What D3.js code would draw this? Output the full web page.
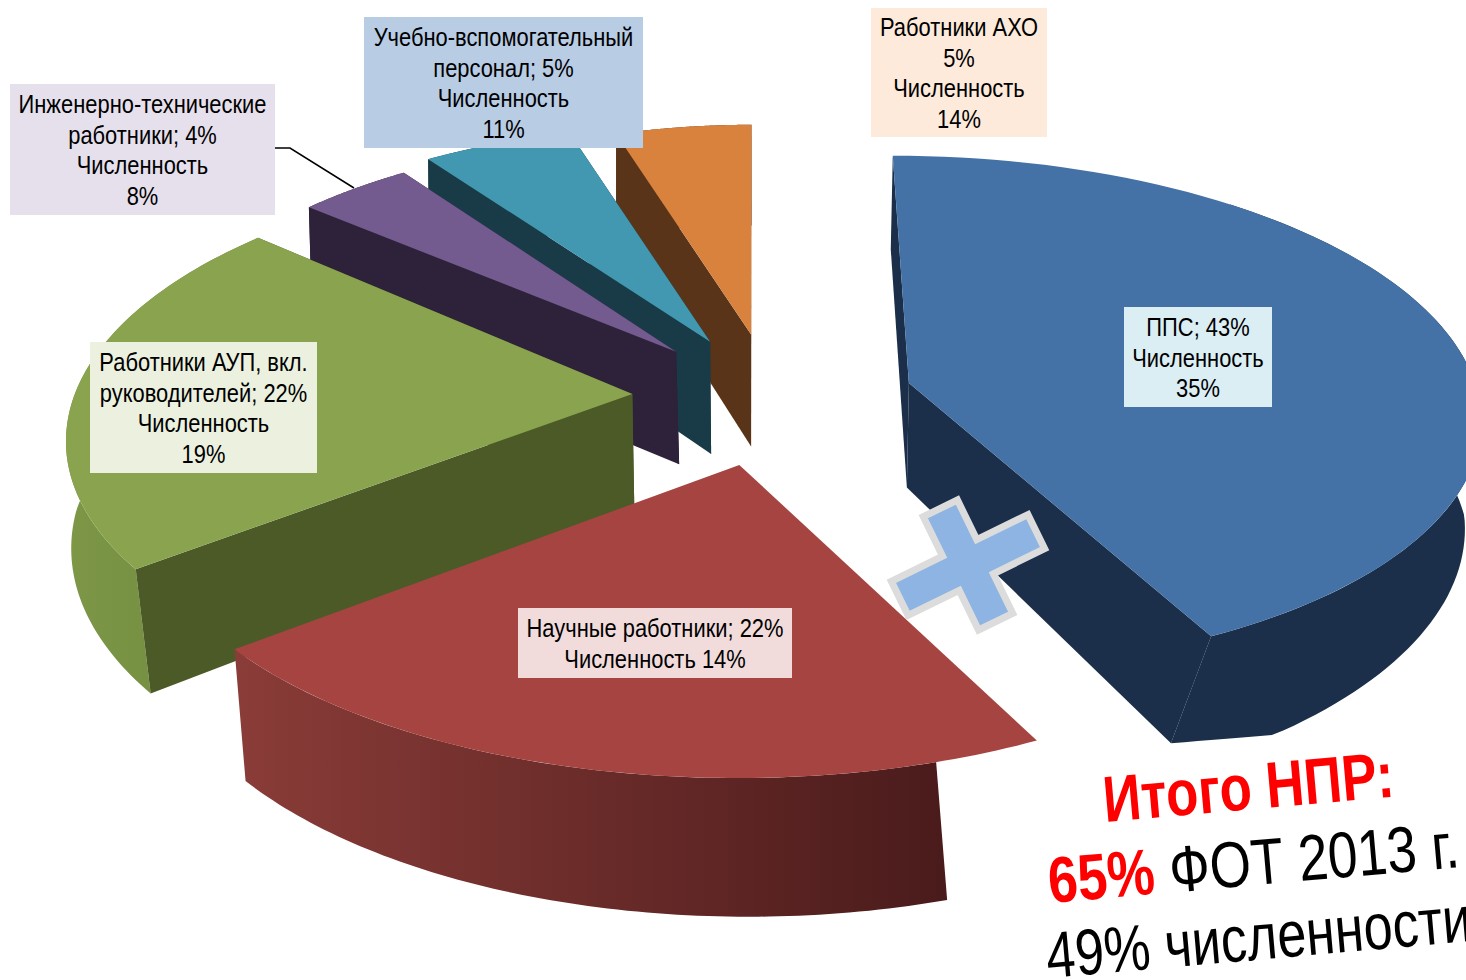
<!DOCTYPE html>
<html><head><meta charset="utf-8">
<script src="https://cdn.jsdelivr.net/npm/d3@7"></script>
<style>html,body{margin:0;padding:0;background:#fff;overflow:hidden}svg{display:block}</style>
</head><body><svg id="c" width="1466" height="980"></svg>
<script>
// DATA
const categories = ["ППС","Научные работники","Работники АУП, вкл. руководителей","Инженерно-технические работники","Учебно-вспомогательный персонал","Работники АХО"];
const payrollShare = [43,22,22,4,5,5];
const headcountShare = [35,14,19,8,11,14];
const explode = [0.285,0.265,0.22,0.23,0.25,0.24];
const nudgeU = [0,0.03,0,0.012,0.03,0.03];
const nudgeV = [-0.02,0,-0.03,0,0,0];
const apexV = [0,0,0.03,0,-0.015,0];
const angleRot = [0,0,2.2,0,0.6,0];
const radU = [1.02,1.03,1,0.955,1.0,0.9];
const radV = [0.98,0.985,1,0.955,0.96,0.94];
const wallStartShift = [40,9.5,0,0,0,0];   // degrees of the outer wall hidden at the slice start
const sliceDepth = [105,118,115,115,115,115];
const wallZ = [1.15,1,1,1,1,1];
const wallDx = [-12,0,0,0,0,0];
const depthLean = [[-2,46],[11,0],[2,-21],[3,0],[1,0],[0,0]];
const floorLine = [[743,-0.0826,1175],null,null,null,null,null];
const topColors  = ["#4472a6","#a64441","#89a34e","#735a8f","#4198b0","#d9823d"];
const cutColors  = ["#1b2f4a","#4a1b1b","#4c5a28","#2d2239","#193b48","#5a3418"];
const wallColors = [["#1b2f4a","#1b2f4a"],["#8a3c38","#4a1b1b"],["#7d9747","#6f883d"],["#2d2239","#2d2239"],["#193b48","#193b48"],["#5a3418","#5a3418"]];
const labelFills = ["#dbeef4","#f2dcdb","#ebf1de","#e6e0ec","#b8cce4","#fdeada"];
const labelLines = [
 ["ППС; 43%","Численность","35%"],
 ["Научные работники; 22%","Численность 14%"],
 ["Работники АУП, вкл.","руководителей; 22%","Численность","19%"],
 ["Инженерно-технические","работники; 4%","Численность","8%"],
 ["Учебно-вспомогательный","персонал; 5%","Численность","11%"],
 ["Работники АХО","5%","Численность","14%"]];
const labelBoxes = [[1124,307,148,100],[518,608,274,70],[90,342,227,131],[10,84,265,131],[364,17,279,131],[871,8,176,129]];
const drawOrder = [5,4,3,2,0,1];

// LAYOUT
const cx=755, cy=395, Rx=558, Ry=262, persp=0.12;
const sx=d3.scaleLinear().domain([-1,1]).range([-Rx,Rx]);
const sy=d3.scaleLinear().domain([-1,1]).range([Ry,-Ry]);
const line=d3.line();
const svg=d3.select("#c");
const defs=svg.append("defs");
wallColors.forEach((c,i)=>{
  const g=defs.append("linearGradient").attr("id","w"+i);
  g.append("stop").attr("offset",0).attr("stop-color",c[0]);
  g.append("stop").attr("offset",1).attr("stop-color",c[1]);
});
const arcs=d3.pie().sort(null)(payrollShare);
const pieG=svg.append("g");
drawOrder.forEach(i=>{
  const a=arcs[i], mid=(a.startAngle+a.endAngle)/2;
  const rot=angleRot[i]*Math.PI/180, a0=a.startAngle+rot, a1=a.endAngle+rot;
  const ox=Math.sin(mid)*explode[i]+nudgeU[i], oy=Math.cos(mid)*explode[i]+nudgeV[i];
  const clampFloor=p=>{
    const f=floorLine[i]; if(!f) return p;
    return [p[0],Math.min(p[1],f[0]+f[1]*(p[0]-f[2]))];
  };
  const lean=v=>depthLean[i][0]+depthLean[i][1]*Math.min(v,0);
  const project=(u,v,z)=>{
    const s=1/(1+persp*v);
    return [cx+sx(u)*s+lean(v)*z, cy+sy(v)*s+sliceDepth[i]*z*s];
  };
  const wallProject=(u,v,z)=>{
    const s=1/(1+persp*v);
    const extra=wallDx[i]*Math.max(0,1+1.2*v);
    return clampFloor([cx+sx(u)*s+(lean(v)+extra)*z, cy+sy(v)*s+sliceDepth[i]*wallZ[i]*z*s]);
  };
  const U=t=>ox+radU[i]*Math.sin(t), V=t=>oy+radV[i]*Math.cos(t);
  const pt=(t,z)=>clampFloor(project(U(t),V(t),z));
  const apex=z=>project(ox,oy+apexV[i],z);
  const angs=(s,e)=>d3.range(0,81).map(k=>s+(e-s)*k/80);
  const g=pieG.append("g");
  const ws=a0+wallStartShift[i]*Math.PI/180;
  const ts=angs(ws,a1);
  const wallPts=ts.map(t=>wallProject(U(t),V(t),0)).concat(ts.slice().reverse().map(t=>wallProject(U(t),V(t),1)));
  g.append("path").attr("d",line(wallPts)+"Z").attr("fill",`url(#w${i})`);
  [a0,a1].forEach(t=>{
    if(i===1) return;
    g.append("path").attr("d",line([apex(0),pt(t,0),pt(t,1),apex(1)])+"Z").attr("fill",cutColors[i]);
  });
  const topPts=[apex(0)].concat(angs(a0,a1).map(t=>pt(t,0)));
  g.append("path").attr("d",line(topPts)+"Z").attr("fill",topColors[i]);
});

// plus sign
const pa=76,pb=63,pw=19;
const plusShape=[[-pw,-pb],[pw,-pb],[pw,-pw],[pa,-pw],[pa,pw],[pw,pw],[pw,pb],[-pw,pb],[-pw,pw],[-pa,pw],[-pa,-pw],[-pw,-pw]];
svg.append("path").attr("d",line(plusShape)+"Z").attr("transform","translate(968,565) rotate(-26)")
  .attr("fill","#8db4e2").attr("stroke","#dcdcdc").attr("stroke-width",7).attr("stroke-linejoin","miter");

// leader
svg.append("path").attr("d",line([[275,148],[290,148],[354,188]])).attr("fill","none").attr("stroke","#000").attr("stroke-width",1.5);

// labels
const F='"Liberation Sans",Arial,sans-serif';
labelBoxes.forEach((b,i)=>{
  svg.append("rect").attr("x",b[0]).attr("y",b[1]).attr("width",b[2]).attr("height",b[3]).attr("fill",labelFills[i]);
  const n=labelLines[i].length, lh=30.5;
  const y0=b[1]+b[3]/2-(n*lh)/2+lh/2+9.5;
  labelLines[i].forEach((s,j)=>{
    svg.append("text").attr("transform",`translate(${b[0]+b[2]/2},${y0+j*lh}) scale(0.876,1)`).attr("text-anchor","middle")
      .attr("font-family",F).attr("font-size",25).attr("fill","#000").text(s);
  });
});

// summary
const S=F;
svg.append("text").attr("transform","translate(1105,822) rotate(-5) scale(0.91,1.12)").attr("font-family",S).attr("font-size",58).attr("font-weight","bold").attr("fill","#f00").text("Итого НПР:");
const t2=svg.append("text").attr("transform","translate(1050,903) rotate(-5) scale(0.92,1.12)").attr("font-family",S).attr("font-size",58);
t2.append("tspan").attr("font-weight","bold").attr("fill","#f00").text("65%");
t2.append("tspan").attr("fill","#000").text(" ФОТ 2013 г.");
svg.append("text").attr("transform","translate(1048,978) rotate(-5) scale(0.9,1.12)").attr("font-family",S).attr("font-size",58).attr("fill","#000").text("49% численности");
</script></body></html>
